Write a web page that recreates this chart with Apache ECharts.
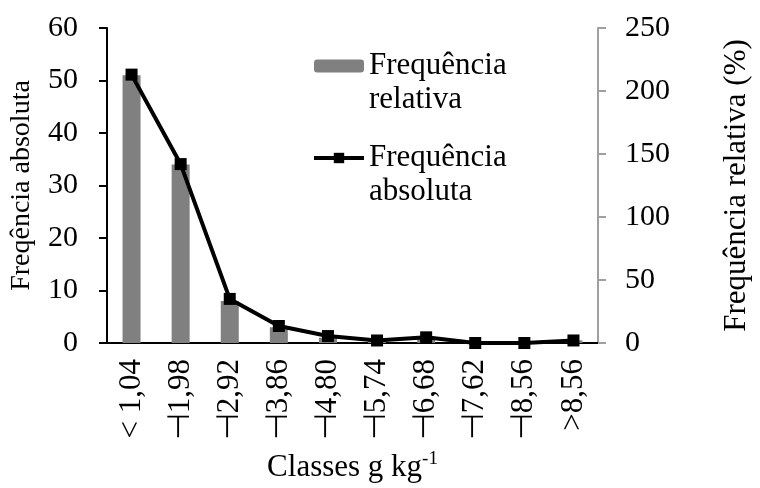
<!DOCTYPE html>
<html>
<head>
<meta charset="utf-8">
<script src="https://cdn.jsdelivr.net/npm/echarts@6/dist/echarts.min.js"></script>
<style>
  html, body { margin: 0; padding: 0; background: #fff; }
  #chart { width: 760px; height: 488px; }
</style>
</head>
<body>
<div id="chart"></div>
<script>
// classes (g kg-1)
const classes = ['< 1,04', '\u22A31,98', '\u22A32,92', '\u22A33,86', '\u22A34,80', '\u22A35,74', '\u22A36,68', '\u22A37,62', '\u22A38,56', '>8,56'];
// bars, read on the left axis
const freqRelativa = [51, 34, 8, 3, 1, 0.5, 1, 0, 0, 0.5];
// line, read on the right axis
const freqAbsoluta = [213, 142, 35, 13.5, 5.5, 2, 4.5, 0, 0, 2];
const leftTicks = [0, 60, 10];
const rightTicks = [0, 250, 50];

const font = 'Liberation Serif, Times New Roman, serif';
const chart = echarts.init(document.getElementById('chart'));

chart.setOption({
  animation: false,
  textStyle: { fontFamily: font, color: '#000' },
  grid: { left: 107, right: 154, top: 28, bottom: 138 },
  legend: {
    orient: 'vertical',
    left: 312,
    top: 15,
    padding: 0,
    itemGap: -10,
    itemWidth: 50,
    itemHeight: 13,
    selectedMode: false,
    formatter: function (name) { return '\n' + name; },
    lineStyle: { width: 4, color: '#000' },
    textStyle: { fontFamily: font, fontSize: 31, lineHeight: 34, color: '#000' },
    data: [
      { name: 'Frequência\nrelativa' },
      { name: 'Frequência\nabsoluta' }
    ]
  },
  xAxis: {
    type: 'category',
    data: classes,
    name: 'Classes g kg{sup|-1}',
    nameLocation: 'middle',
    nameGap: 107,
    nameTextStyle: {
      fontFamily: font, fontSize: 31, color: '#000',
      rich: { sup: { fontFamily: font, fontSize: 19, verticalAlign: 'top', padding: [0, 0, 16, 0], color: '#000' } }
    },
    axisLine: { lineStyle: { color: '#000', width: 2 } },
    axisTick: { show: false },
    axisLabel: { rotate: 90, fontFamily: font, fontSize: 31, color: '#000', margin: 16, interval: 0 }
  },
  yAxis: [
    {
      type: 'value',
      min: leftTicks[0], max: leftTicks[1], interval: leftTicks[2],
      name: 'Freqência absoluta',
      nameLocation: 'middle',
      nameGap: 71,
      nameTextStyle: { fontFamily: font, fontSize: 28, color: '#000' },
      axisLine: { show: true, lineStyle: { color: '#000', width: 2 } },
      axisTick: { show: true, length: 8, lineStyle: { color: '#000', width: 2 } },
      axisLabel: { fontFamily: font, fontSize: 30, color: '#000', margin: 29 },
      splitLine: { show: false }
    },
    {
      type: 'value',
      min: rightTicks[0], max: rightTicks[1], interval: rightTicks[2],
      name: 'Frequência relativa (%)',
      nameLocation: 'middle',
      nameGap: 123,
      nameRotate: 90,
      nameTextStyle: { fontFamily: font, fontSize: 31, color: '#000' },
      axisLine: { show: true, lineStyle: { color: '#a0a0a0', width: 2 } },
      axisTick: { show: true, length: 8, lineStyle: { color: '#a0a0a0', width: 2 } },
      axisLabel: { fontFamily: font, fontSize: 30, color: '#000', margin: 27 },
      splitLine: { show: false }
    }
  ],
  series: [
    {
      name: 'Frequência\nrelativa',
      type: 'bar',
      yAxisIndex: 0,
      data: freqRelativa,
      barWidth: 18,
      itemStyle: { color: '#808080' }
    },
    {
      name: 'Frequência\nabsoluta',
      type: 'line',
      yAxisIndex: 1,
      data: freqAbsoluta,
      symbol: 'rect',
      symbolSize: 12,
      lineStyle: { color: '#000', width: 4 },
      itemStyle: { color: '#000' }
    }
  ]
});
</script>
</body>
</html>
